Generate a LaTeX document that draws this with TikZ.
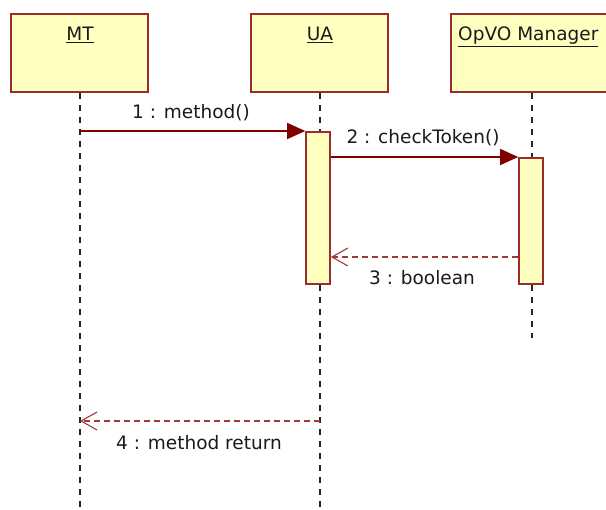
\documentclass[tikz,border=0pt]{standalone}
\usepackage{fontspec}
\setmainfont{DejaVu Sans}
\usetikzlibrary{arrows.meta}
\definecolor{boxfill}{HTML}{FFFFC0}
\definecolor{boxline}{HTML}{9C2B2B}
\definecolor{msgline}{HTML}{800000}
\definecolor{retline}{HTML}{A03A3A}
\definecolor{labeltext}{HTML}{1A1A1A}
\tikzset{
  objbox/.style={draw=boxline, fill=boxfill, line width=2pt, rectangle,
    anchor=north west, minimum width=137pt, minimum height=78pt, inner sep=0pt},
  actbox/.style={draw=boxline, fill=boxfill, line width=1.6pt, rectangle,
    anchor=north, minimum width=24pt, inner sep=0pt},
  objname/.style={text=labeltext, inner sep=0pt, anchor=base,
    font=\fontsize{18.5}{22}\selectfont},
  msglabel/.style={text=labeltext, inner sep=0pt,
    font=\fontsize{18.5}{22}\selectfont},
  lifeline/.style={draw=black!85, line width=1.6pt, dash pattern=on 6pt off 6pt},
  callmsg/.style={draw=msgline, line width=1.3pt,
    -{Triangle[length=18pt,width=16pt,fill=msgline]}},
  retmsg/.style={draw=retline, line width=1.3pt, dash pattern=on 6pt off 4pt,
    -{Straight Barb[length=16pt,width=18pt,line width=1.1pt]}},
}
\begin{document}
\begin{tikzpicture}[x=1pt,y=-1pt]
\path[use as bounding box, clip] (0,0) rectangle (606,510);
\fill[white] (0,0) rectangle (606,510);

% object boxes
\node[objbox] (mt) at (9.5,13.5) {};
\node[objbox] (ua) at (250,13.5) {};
\node[objbox, minimum width=170pt] (op) at (450,13.5) {};

\node[objname] (mtname) at (80,40.5) {\underline{MT}};
\node[objname] (uaname) at (320,40.5) {\underline{UA}};
\node[objname, anchor=base west] (opname) at (458,40.5) {\underline{OpVO Manager}};

% lifelines
\coordinate (mtend) at (80,510);
\coordinate (uaend) at (320,510);
\coordinate (opend) at (532,338);
\draw[lifeline] (mtend |- mt.south) -- (mtend);
\draw[lifeline] (uaend |- ua.south) -- (uaend);
\draw[lifeline] (opend |- op.south) -- (opend);

% activation bars
\node[actbox, minimum height=152pt] (uaact) at (318,131) {};
\node[actbox, minimum height=126pt] (opact) at (531,157) {};

% messages
\coordinate (m1) at (80,131);
\draw[callmsg] (m1) -- (uaact.north west);
\draw[callmsg] (uaact.east |- opact.north) -- (opact.north west);
\coordinate (r3) at (0,257);
\draw[retmsg] (opact.west |- r3) -- (uaact.east |- r3);
\coordinate (r4) at (0,421);
\draw[retmsg] (uaend |- r4) -- (mtend |- r4);

% message labels
\node[msglabel] (l1) at (191,113) {1 : method()};
\node[msglabel] (l2) at (423,138) {2 : checkToken()};
\node[msglabel] (l3) at (422,278) {3 : boolean};
\node[msglabel] (l4) at (199,443) {4 : method return};
\end{tikzpicture}
\end{document}
